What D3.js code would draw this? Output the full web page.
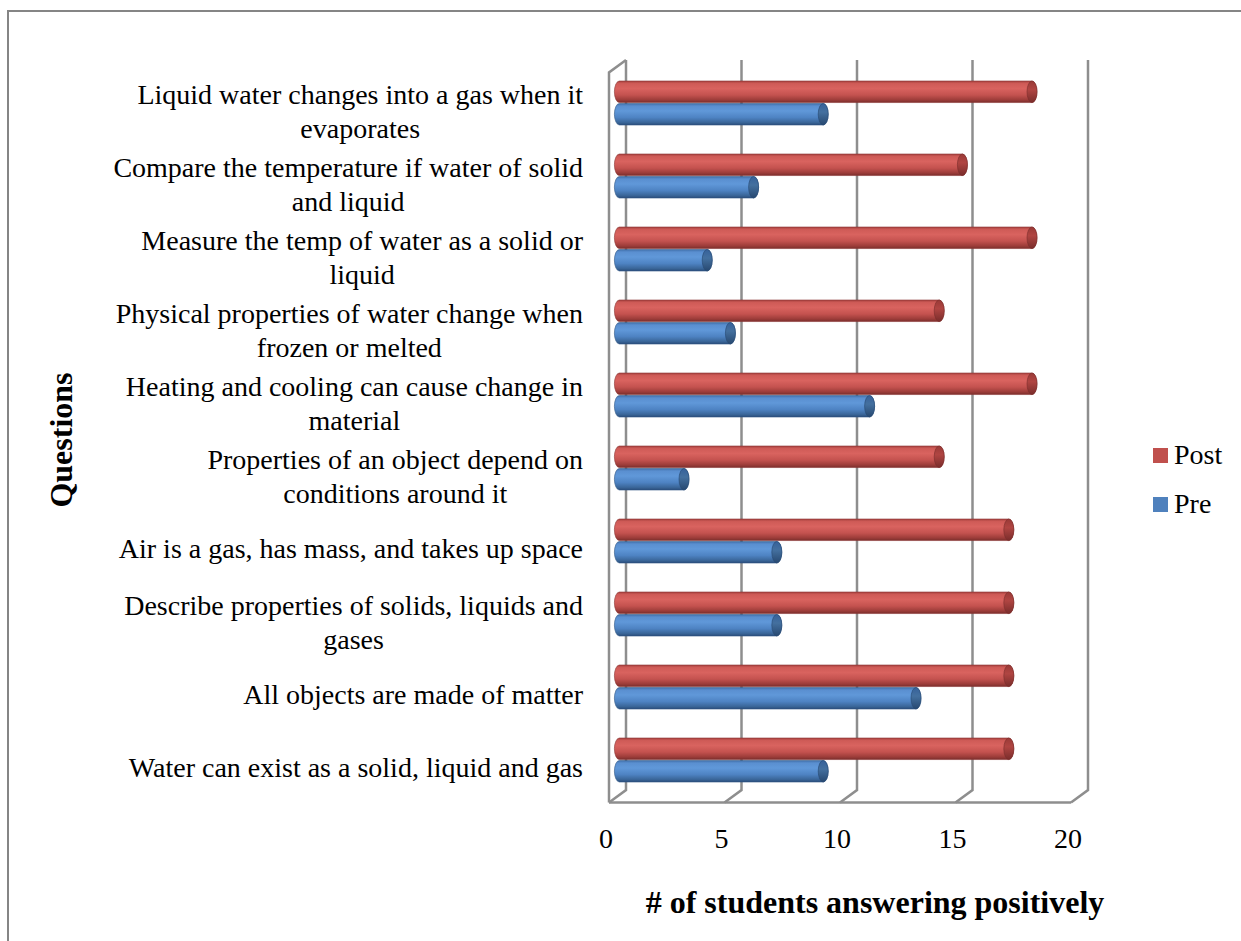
<!DOCTYPE html>
<html>
<head>
<meta charset="utf-8">
<script src="https://cdn.jsdelivr.net/npm/d3@7"></script>
<style>
  html, body { margin: 0; padding: 0; background: #fff; }
  svg { display: block; }
  text { font-family: "Liberation Serif", "Times New Roman", serif; fill: #000; }
</style>
</head>
<body>
<svg id="chart" width="1241" height="941"></svg>
<script>
// Survey questions, listed top to bottom as drawn
const categories = [
  "Liquid water changes into a gas when it evaporates",
  "Compare the temperature if water of solid and liquid",
  "Measure the temp of water as a solid or liquid",
  "Physical properties of water change when frozen or melted",
  "Heating and cooling can cause change in material",
  "Properties of an object depend on conditions around it",
  "Air is a gas, has mass, and takes up space",
  "Describe properties of solids, liquids and gases",
  "All objects are made of matter",
  "Water can exist as a solid, liquid and gas"
];
// How each category label wraps onto lines
const labelLines = [
  ["Liquid water changes into a gas when it", "evaporates"],
  ["Compare the temperature if water of solid", "and liquid"],
  ["Measure the temp of water as a solid or", "liquid"],
  ["Physical properties of water change when", "frozen or melted"],
  ["Heating and cooling can cause change in", "material"],
  ["Properties of an object depend on", "conditions around it"],
  ["Air is a gas, has mass, and takes up space"],
  ["Describe properties of solids, liquids and", "gases"],
  ["All objects are made of matter"],
  ["Water can exist as a solid, liquid and gas"]
];
const seriesNames = ["Post", "Pre"];
const postValues = [18, 15, 18, 14, 18, 14, 17, 17, 17, 17];
const preValues  = [9, 6, 4, 5, 11, 3, 7, 7, 13, 9];
const xTicks = [0, 5, 10, 15, 20];

const svg = d3.select("#chart");
const defs = svg.append("defs");

// Outer chart frame (left and top edges)
svg.append("path")
  .attr("d", "M8,941 L8,11 L1241,11")
  .attr("fill", "none").attr("stroke", "#858585").attr("stroke-width", 2);

// 3D box: back wall and front plane are offset by the depth vector
const depth = { dx: -17, dy: 12.5 };
const backTop = 60, backBottom = 790;
const xBack = d3.scaleLinear().domain([0, 20]).range([626, 1088]);
const xFront = v => xBack(v) + depth.dx;
const xBar = d3.scaleLinear().domain([0, 20]).range([614.4, 1078.4]);

const y = d3.scaleBand().domain(categories).range([66.5, 796.5]);
const ySub = d3.scaleBand().domain(seriesNames).range([-22, 22]).paddingInner(0.04);

const frame = svg.append("g").attr("fill", "none").attr("stroke", "#8e8e8e").attr("stroke-width", 2.5);

// Gridlines on the back wall, each running into the floor
xTicks.forEach(v => {
  frame.append("path")
    .attr("d", `M${xBack(v)},${backTop} L${xBack(v)},${backBottom} L${xFront(v)},${backBottom + depth.dy}`);
});
// Floor front edge
frame.append("path")
  .attr("d", `M${xFront(0)},${backBottom + depth.dy} L${xFront(20)},${backBottom + depth.dy}`);
// Side wall front edge and its top
frame.append("path")
  .attr("d", `M${xFront(0)},${backBottom + depth.dy} L${xFront(0)},${backTop + depth.dy} L${xBack(0)},${backTop}`);

// Cylinder shading
function cylGradient(id, stops) {
  const g = defs.append("linearGradient").attr("id", id)
    .attr("x1", 0).attr("y1", 0).attr("x2", 0).attr("y2", 1);
  stops.forEach(([o, c]) => g.append("stop").attr("offset", o).attr("stop-color", c));
}
cylGradient("body-Post", [[0, "#a8423f"], [0.12, "#cf5b57"], [0.35, "#d9635f"], [0.65, "#c4524f"], [0.88, "#9c3c39"], [1, "#7a2e2c"]]);
cylGradient("body-Pre",  [[0, "#3f6ea8"], [0.12, "#5a8fd0"], [0.35, "#6098d9"], [0.65, "#4e83c3"], [0.88, "#3a6699"], [1, "#2a4d7a"]]);
cylGradient("cap-Post",  [[0, "#9a3a37"], [0.4, "#b04542"], [1, "#7a2d2b"]]);
cylGradient("cap-Pre",   [[0, "#36619a"], [0.4, "#44709f"], [1, "#274870"]]);

const capRx = 5;
const rows = categories.map((c, i) => ({ cat: c, Post: postValues[i], Pre: preValues[i] }));

const bars = svg.append("g");
rows.forEach(r => {
  seriesNames.forEach(s => {
    const h = ySub.bandwidth();
    const top = y(r.cat) + y.bandwidth() / 2 + ySub(s);
    const ry = h / 2;
    const xs = xBar(0) + capRx;
    const xe = xBar(r[s]);
    const g = bars.append("g");
    g.append("path")
      .attr("d", `M${xs},${top} L${xe},${top} A${capRx},${ry} 0 0 1 ${xe},${top + h} L${xs},${top + h} A${capRx},${ry} 0 0 1 ${xs},${top} Z`)
      .attr("fill", `url(#body-${s})`)
      .attr("stroke", s === "Post" ? "#8a3432" : "#2f5584").attr("stroke-width", 0.6);
    g.append("ellipse")
      .attr("cx", xe).attr("cy", top + ry).attr("rx", capRx).attr("ry", ry)
      .attr("fill", `url(#cap-${s})`)
      .attr("stroke", s === "Post" ? "#7a2d2b" : "#274870").attr("stroke-width", 0.6);
  });
});

// Value axis tick labels along the front of the floor
svg.append("g").selectAll("text").data(xTicks).join("text")
  .attr("x", d => xFront(d) - 3).attr("y", 848)
  .attr("text-anchor", "middle").attr("font-size", 28)
  .text(d => d);

// Category labels, right aligned as a block with wrapped lines centred
const labelRight = 583, lineH = 34;
const lab = svg.append("g").attr("font-size", 28);
labelLines.forEach((lines, i) => {
  const cy = y(categories[i]) + y.bandwidth() / 2;
  const t = lab.append("text").attr("text-anchor", "middle");
  const spans = lines.map((ln, k) => t.append("tspan").text(ln));
  const w = d3.max(spans, sp => sp.node().getComputedTextLength());
  const cx = labelRight - w / 2;
  const first = lines.length === 1 ? cy + 17 : cy + 0.5;
  spans.forEach((sp, k) => sp.attr("x", cx).attr("y", first + k * lineH));
});

// Axis titles
svg.append("text")
  .attr("x", 875).attr("y", 913)
  .attr("text-anchor", "middle").attr("font-size", 32).attr("font-weight", "bold")
  .text("# of students answering positively");
svg.append("text")
  .attr("transform", "translate(72,440) rotate(-90)")
  .attr("text-anchor", "middle").attr("font-size", 32).attr("font-weight", "bold")
  .text("Questions");

// Legend
const legendColors = { Post: "#c0504d", Pre: "#4f81bd" };
const leg = svg.append("g");
seriesNames.forEach((s, i) => {
  const yy = 448 + i * 49;
  leg.append("rect").attr("x", 1153).attr("y", yy).attr("width", 15).attr("height", 15)
    .attr("fill", legendColors[s]);
  leg.append("text").attr("x", 1174).attr("y", yy + 15.5).attr("font-size", 28).text(s);
});
</script>
</body>
</html>
